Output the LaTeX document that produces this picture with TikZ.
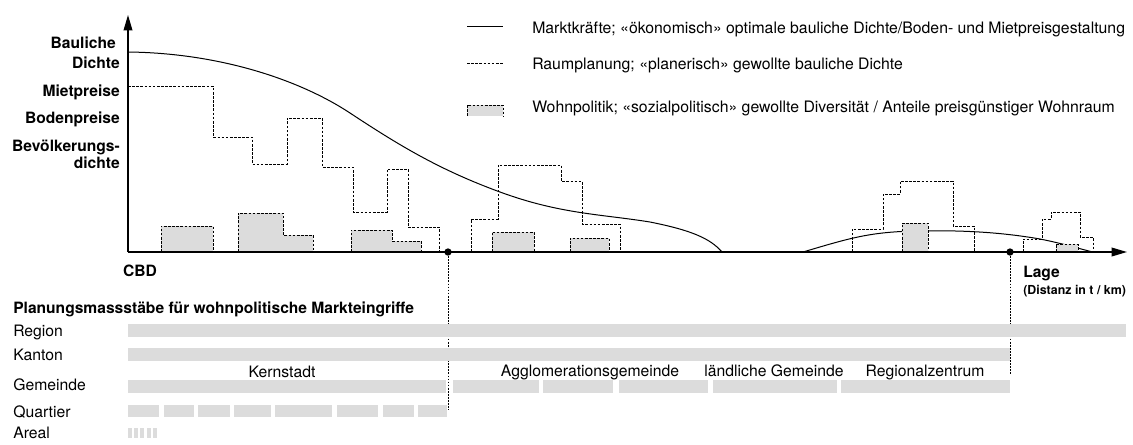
\documentclass[tikz,border=0pt]{standalone}
\usepackage{fontspec}
\setmainfont{TeX Gyre Heros}
\usepackage{tikz}
\usetikzlibrary{positioning,arrows.meta,calc}
\definecolor{boxGray}{HTML}{DCDCDC}

\begin{document}
\begin{tikzpicture}[x=0.75pt, y=-0.75pt]
    \useasboundingbox (0,0) rectangle (1133,444);

    % Styles
    \tikzstyle{axisText}=[anchor=base east, inner sep=0pt, font=\fontsize{11.7}{14}\selectfont\bfseries]
    \tikzstyle{legendText}=[anchor=base west, inner sep=0pt, font=\fontsize{11.85}{14}\selectfont]
    \tikzstyle{scaleText}=[anchor=base west, inner sep=0pt, font=\fontsize{11.8}{14}\selectfont]
    \tikzstyle{market}=[line width=0.75pt]
    \tikzstyle{planning}=[line width=0.75pt, dash pattern=on 2pt off 1.1pt]
    \tikzstyle{housing}=[planning, fill=boxGray]
    \tikzstyle{scaleBar}=[fill=boxGray, draw=none]
    \tikzstyle{marker}=[circle, fill=black, inner sep=0pt, minimum size=5.5pt]
    \tikzstyle{cutLine}=[line width=0.6pt, dash pattern=on 1.3pt off 1pt]
    \tikzstyle{axis}=[line width=1.1pt, -{Triangle[length=11.5pt, width=6.5pt]}]

    % Legend
    \draw[market] (467,26) -- (503,26);
    \draw[planning] (467,63) -- (503,63);
    \draw[housing] (467,116) |- (503,105) -- (503,116);
    \node[legendText] (legMarket) at (532,33) {Marktkräfte; «ökonomisch» optimale bauliche Dichte/Boden- und Mietpreisgestaltung};
    \node[legendText] (legPlanning) at (532,69) {Raumplanung; «planerisch» gewollte bauliche Dichte};
    \node[legendText] (legHousing) at (532,112.5) {Wohnpolitik; «sozialpolitisch» gewollte Diversität / Anteile preisgünstiger Wohnraum};

    % Market curves
    \draw[market] (128,52) .. controls (220,53) and (300,80) .. (350,113)
        .. controls (400,146) and (440,170) .. (500,192)
        .. controls (560,214) and (600,214) .. (650,222)
        .. controls (690,230) and (710,238) .. (722,252);
    \draw[market] (803,252) .. controls (850,238) and (870,232) .. (915,231)
        .. controls (960,230) and (1000,232) .. (1040,239)
        .. controls (1065,244) and (1080,249) .. (1093,252);

    % Housing policy
    \draw[housing] (161,252) |- (213,226) -- (213,252);
    \draw[housing] (238,252) |- (283,213) |- (313,235) -- (313,252);
    \draw[housing] (351,252) |- (392,230) |- (421,241) -- (421,252);
    \draw[housing] (492,252) |- (534,232) -- (534,252);
    \draw[housing] (570,252) |- (609,238) -- (609,252);
    \draw[housing] (902,252) |- (928,223) -- (928,252);
    \draw[housing] (1056,252) |- (1078,244) -- (1078,252);

    % Planning
    \draw[planning] (128,86) -| (213,137) -| (252,164) -| (287,118) -| (322,167) -| (353,212) -| (387,169) -| (408,227) -| (439,252);
    \draw[planning] (471,252) |- (498,219) |- (561,165) |- (582,181) |- (620,224) -- (620,252);
    \draw[planning] (852,252) |- (883,229) |- (900,194) |- (953,181) |- (974,226) -- (974,252);
    \draw[planning] (1023,252) |- (1042,239) |- (1051,219) |- (1080,212) |- (1093,237) -- (1093,252);

    % Axes
    \coordinate (origin) at (128,252);
    \coordinate (yTip) at (128,15);
    \coordinate (xTip) at (1127,252);
    \draw[axis] (origin) -- (yTip);
    \draw[axis] (origin) -- (xTip);

    \node[axisText] (yBau) at (116,48) {Bauliche};
    \node[axisText] (yDichte) at (120,68) {Dichte};
    \node[axisText] (yMiete) at (120,96) {Mietpreise};
    \node[axisText] (yBoden) at (120,123) {Bodenpreise};
    \node[axisText] (yBev) at (120,151) {Bevölkerungs-};
    \node[axisText] (yBevD) at (120,168) {dichte};
    \node[axisText, anchor=base] (cbd) at (140,276) {CBD};
    \node[axisText, anchor=base west] (lage) at (1023,277) {Lage};
    \node[axisText, anchor=base west, font=\fontsize{9.3}{11}\selectfont\bfseries] (distanz) at (1023,294) {(Distanz in t / km)};

    % Cuts
    \node[marker] (cutKern) at (448,252) {};
    \node[marker] (cutRegio) at (1010,252) {};
    \coordinate (cutKernEnd) at (448,410);
    \coordinate (cutRegioEnd) at (1010,375);
    \draw[cutLine] (cutKern) -- (cutKernEnd);
    \draw[cutLine] (cutRegio) -- (cutRegioEnd);

    % Scales
    \node[axisText, anchor=base west] (scaleTitle) at (13,313) {Planungsmassstäbe für wohnpolitische Markteingriffe};
    \node[scaleText] (region) at (13,336) {Region};
    \node[scaleText] (kanton) at (13,360) {Kanton};
    \node[scaleText] (gemeinde) at (13,390) {Gemeinde};
    \node[scaleText] (quartier) at (13,417) {Quartier};
    \node[scaleText] (areal) at (13,438) {Areal};

    \fill[scaleBar] (128,324) rectangle (1126,337);
    \fill[scaleBar] (128,348) rectangle (1010,361);

    \node[scaleText, anchor=base] (kernstadt) at (282,377) {Kernstadt};
    \node[scaleText, anchor=base] (agglo) at (590,376) {Agglomerationsgemeinde};
    \node[scaleText, anchor=base] (laendlich) at (774,376) {ländliche Gemeinde};
    \node[scaleText, anchor=base] (regionalzentrum) at (925,376) {Regionalzentrum};

    \foreach \a/\b in {128/446, 453/539, 543/613, 619/708, 713/837, 841/1010}
        \fill[scaleBar] (\a,380) rectangle (\b,393);
    \foreach \a/\b in {128/159, 164/194, 198/230, 234/271, 275/332, 337/378, 383/414, 418/447}
        \fill[scaleBar] (\a,405) rectangle (\b,417);
    \foreach \a in {128, 134.2, 140.4, 146.6, 152.8}
        \fill[scaleBar] (\a,428) rectangle (\a+4,438);
\end{tikzpicture}
\end{document}
